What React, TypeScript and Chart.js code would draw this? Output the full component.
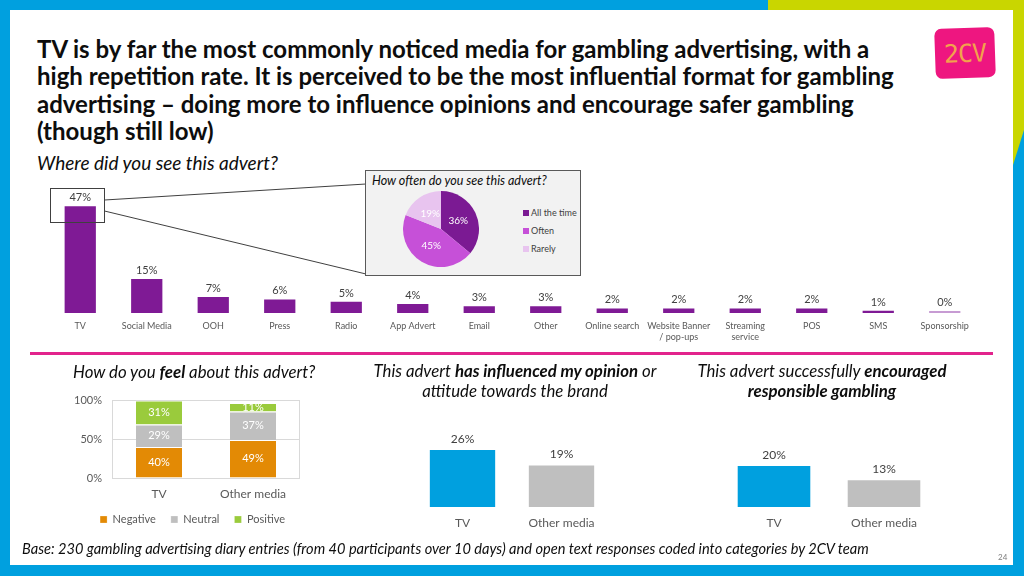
import React, { useEffect, useRef } from "react";
import { Chart, registerables } from "chart.js";

Chart.register(...registerables);

const SANS = "Lato, 'Open Sans', 'Noto Sans', sans-serif";

// ---------- data ----------
const mediaCategories: (string | string[])[] = [
  "TV", "Social Media", "OOH", "Press", "Radio", "App Advert", "Email", "Other",
  "Online search", ["Website Banner", "/ pop-ups"], ["Streaming", "service"], "POS", "SMS", "Sponsorship",
];
const mediaShare = [47, 15, 7, 6, 5, 4, 3, 3, 2, 2, 2, 2, 1, 0];

const frequencyLabels = ["All the time", "Often", "Rarely"];
const frequencyShare = [36, 45, 19];

const feelCategories = ["TV", "Other media"];
const feelSeriesNames = ["Negative", "Neutral", "Positive"];
const feelNegative = [40, 49];
const feelNeutral = [29, 37];
const feelPositive = [31, 11];

const compareCategories = ["TV", "Other media"];
const influencedShare = [26, 19];
const encouragedShare = [20, 13];

// ---------- colours ----------
const BLUE = "#00A0DF";
const LIME = "#C9D600";
const PURPLE = "#7F1A95";
const PIE_COLORS = ["#7B1A93", "#C650D8", "#E8C4EF"];
const ORANGE = "#E38A05";
const GREY = "#BFBFBF";
const GREEN = "#9ACB3C";
const AXIS_TEXT = "#595959";
const LABEL_TEXT = "#404040";

type LabelOpts = { size: number; color: string; position: "top" | "center" | "arc"; offset?: number };

function makeValueLabels(o: LabelOpts) {
  return {
    id: "valueLabels",
    afterDatasetsDraw(chart: any) {
      const ctx = chart.ctx;
      ctx.save();
      ctx.font = `${o.size}px ${SANS}`;
      ctx.textAlign = "center";
      ctx.fillStyle = o.color;
      chart.data.datasets.forEach((ds: any, di: number) => {
        const meta = chart.getDatasetMeta(di);
        meta.data.forEach((el: any, i: number) => {
          const text = `${Math.round(ds.data[i])}%`;
          if (o.position === "top") {
            ctx.textBaseline = "alphabetic";
            ctx.fillText(text, el.x, el.y - (o.offset ?? 6));
          } else if (o.position === "arc") {
            const p = el.tooltipPosition(false);
            ctx.textBaseline = "middle";
            ctx.fillText(text, p.x, p.y);
          } else {
            ctx.textBaseline = "middle";
            ctx.fillText(text, el.x, (el.y + el.base) / 2);
          }
        });
      });
      ctx.restore();
    },
  };
}

const plotFrame = {
  id: "plotFrame",
  beforeDatasetsDraw(chart: any) {
    const { ctx, chartArea: a } = chart;
    ctx.save();
    ctx.strokeStyle = "#D9D9D9";
    ctx.lineWidth = 1;
    ctx.beginPath();
    ctx.moveTo(Math.round(a.left) + 0.5, a.top);
    ctx.lineTo(Math.round(a.left) + 0.5, a.bottom);
    ctx.moveTo(Math.round(a.right) - 0.5, a.top);
    ctx.lineTo(Math.round(a.right) - 0.5, a.bottom);
    ctx.stroke();
    ctx.restore();
  },
};

const mainConfig = () => ({
  type: "bar",
  data: {
    labels: mediaCategories,
    datasets: [
      {
        data: mediaShare,
        backgroundColor: mediaShare.map((v) => (v > 0 ? PURPLE : "#C79BD3")),
        barPercentage: 0.47,
        categoryPercentage: 1,
        minBarLength: 2,
        borderWidth: 0,
      },
    ],
  },
  options: {
    responsive: false,
    animation: false,
    layout: { padding: { top: 19.5, left: 0, right: 0, bottom: 0 } },
    plugins: { legend: { display: false }, tooltip: { enabled: false } },
    scales: {
      x: {
        grid: { display: false, drawTicks: false },
        border: { display: false },
        ticks: { color: AXIS_TEXT, font: { family: SANS, size: 9 }, padding: 8, maxRotation: 0, autoSkip: false },
        afterFit: (s: any) => { s.height = 32; },
      },
      y: { display: false, min: 0, max: 50 },
    },
  },
  plugins: [makeValueLabels({ size: 11, color: LABEL_TEXT, position: "top", offset: 5 })],
});

const pieConfig = () => ({
  type: "pie",
  data: {
    labels: frequencyLabels,
    datasets: [{ data: frequencyShare, backgroundColor: PIE_COLORS, borderWidth: 0 }],
  },
  options: {
    responsive: false,
    animation: false,
    layout: { padding: 0 },
    plugins: { legend: { display: false }, tooltip: { enabled: false } },
  },
  plugins: [makeValueLabels({ size: 10, color: "#FFFFFF", position: "arc" })],
});

const feelConfig = () => ({
  type: "bar",
  data: {
    labels: feelCategories,
    datasets: [feelNegative, feelNeutral, feelPositive].map((d, i) => ({
      label: feelSeriesNames[i],
      data: d,
      backgroundColor: [ORANGE, GREY, GREEN][i],
      barPercentage: 0.49,
      categoryPercentage: 1,
      borderColor: "#FFFFFF",
      borderWidth: { top: 1, bottom: 0, left: 0, right: 0 },
      borderSkipped: false,
    })),
  },
  options: {
    responsive: false,
    animation: false,
    layout: { padding: { top: 0, right: 5, left: 0, bottom: 0 } },
    plugins: {
      legend: {
        position: "bottom",
        align: "end",
        labels: { boxWidth: 7, boxHeight: 7, padding: 15, color: AXIS_TEXT, font: { family: SANS, size: 11 } },
      },
      tooltip: { enabled: false },
    },
    scales: {
      x: {
        stacked: true,
        grid: { display: false, drawTicks: false },
        border: { display: false },
        ticks: { color: AXIS_TEXT, font: { family: SANS, size: 12 }, padding: 9 },
        afterFit: (s: any) => { s.height = 21; },
      },
      y: {
        stacked: true,
        min: 0,
        max: 100,
        ticks: { stepSize: 50, callback: (v: any) => `${v}%`, color: AXIS_TEXT, font: { family: SANS, size: 11 }, padding: 10 },
        grid: { color: "#D9D9D9", drawTicks: false },
        border: { display: false },
        afterFit: (s: any) => { s.width = 62; },
      },
    },
  },
  plugins: [plotFrame, makeValueLabels({ size: 11, color: "#FFFFFF", position: "center" })],
});

const compareConfig = (values: number[], pad: { top: number; left: number; right: number }) => () => ({
  type: "bar",
  data: {
    labels: compareCategories,
    datasets: [{ data: values, backgroundColor: [BLUE, GREY], barPercentage: 0.66, categoryPercentage: 1, borderWidth: 0 }],
  },
  options: {
    responsive: false,
    animation: false,
    layout: { padding: { ...pad, bottom: 0 } },
    plugins: { legend: { display: false }, tooltip: { enabled: false } },
    scales: {
      x: {
        grid: { display: false, drawTicks: false },
        border: { display: false },
        ticks: { color: AXIS_TEXT, font: { family: SANS, size: 12 }, padding: 9 },
        afterFit: (s: any) => { s.height = 28; },
      },
      y: { display: false, min: 0, max: 30 },
    },
  },
  plugins: [makeValueLabels({ size: 12, color: LABEL_TEXT, position: "top", offset: 7 })],
});

function ChartCanvas(props: { left: number; top: number; width: number; height: number; make: () => any }) {
  const ref = useRef<HTMLCanvasElement>(null);
  useEffect(() => {
    const chart = new Chart(ref.current as HTMLCanvasElement, props.make());
    return () => chart.destroy();
  }, []);
  return (
    <canvas
      ref={ref}
      width={props.width}
      height={props.height}
      style={{ position: "absolute", left: props.left, top: props.top, width: props.width, height: props.height }}
    />
  );
}

const abs = (left: number, top: number, extra: React.CSSProperties = {}): React.CSSProperties => ({
  position: "absolute",
  left,
  top,
  whiteSpace: "nowrap",
  fontFamily: SANS,
  ...extra,
});

export default function App() {
  return (
    <div style={{ position: "absolute", left: 0, top: 0, width: 1024, height: 576, overflow: "hidden", background: BLUE }}>
      <svg width={1024} height={576} style={{ position: "absolute", left: 0, top: 0 }}>
        <polygon points="768,0 1024,0 1024,130 1013,165 1013,10 768,10" fill={LIME} />
      </svg>
      <div style={{ position: "absolute", left: 10, top: 10, width: 1003, height: 555, background: "#FFFFFF" }} />

      {/* logo */}
      <div
        style={{
          position: "absolute", left: 935, top: 28, width: 60, height: 50, borderRadius: 7, background: "#EE1680",
          transform: "rotate(-2deg)", display: "flex", alignItems: "center", justifyContent: "center",
        }}
      >
        <span style={{ fontFamily: "'DejaVu Sans Mono', monospace", fontSize: 25, color: "#F2A24C", letterSpacing: -1 }}>2CV</span>
      </div>

      {/* title */}
      <div style={abs(37, 35, { fontSize: 24, lineHeight: "27.3px", fontWeight: 700, color: "#0D0D0D" })}>
        TV is by far the most commonly noticed media for gambling advertising, with a<br />
        high repetition rate. It is perceived to be the most influential format for gambling<br />
        advertising – doing more to influence opinions and encourage safer gambling<br />
        (though still low)
      </div>

      <div style={abs(37, 152, { fontSize: 19, lineHeight: "22.8px", fontStyle: "italic", color: "#0D0D0D" })}>
        Where did you see this advert?
      </div>

      <ChartCanvas left={47} top={180} width={931} height={165} make={mainConfig} />

      {/* zoom call-out */}
      <svg width={1024} height={576} style={{ position: "absolute", left: 0, top: 0, pointerEvents: "none" }}>
        <rect x={50.5} y={188.5} width={54} height={34} fill="none" stroke="#404040" strokeWidth={1} />
        <line x1={104.5} y1={200} x2={366} y2={184} stroke="#404040" strokeWidth={1} />
        <line x1={104.5} y1={211} x2={366} y2={274} stroke="#404040" strokeWidth={1} />
      </svg>

      <div
        style={{
          position: "absolute", left: 365, top: 170, width: 214, height: 104, background: "#F2F2F2",
          border: "1.5px solid #595959",
        }}
      />
      <div style={abs(372, 173, { fontSize: 12.5, lineHeight: "15px", fontStyle: "italic", color: "#0D0D0D" })}>
        How often do you see this advert?
      </div>
      <ChartCanvas left={403} top={191} width={76} height={76} make={pieConfig} />
      {frequencyLabels.map((t, i) => (
        <div key={t} style={abs(523, 207 + i * 18, { fontSize: 9, lineHeight: "12px", color: LABEL_TEXT, display: "flex", alignItems: "center" })}>
          <span style={{ display: "inline-block", width: 6, height: 6, background: PIE_COLORS[i], marginRight: 2 }} />
          {t}
        </div>
      ))}

      {/* divider */}
      <div style={{ position: "absolute", left: 30, top: 352, width: 963, height: 3, background: "#E2238C" }} />

      {/* bottom left */}
      <div style={abs(73, 362, { fontSize: 16.8, lineHeight: "20px", fontStyle: "italic", color: "#0D0D0D" })}>
        How do you <b>feel</b> about this advert?
      </div>
      <ChartCanvas left={50} top={384} width={255} height={151} make={feelConfig} />

      {/* bottom middle */}
      <div style={abs(315, 361, { width: 400, textAlign: "center", fontSize: 16.8, lineHeight: "20px", fontStyle: "italic", color: "#0D0D0D" })}>
        This advert <b>has influenced my opinion</b> or<br />attitude towards the brand
      </div>
      <ChartCanvas left={400} top={420} width={225} height={115} make={compareConfig(influencedShare, { top: 21.3, left: 13, right: 14 })} />

      {/* bottom right */}
      <div style={abs(622, 361, { width: 400, textAlign: "center", fontSize: 16.8, lineHeight: "20px", fontStyle: "italic", color: "#0D0D0D" })}>
        This advert successfully <b>encouraged</b><br /><b>responsible gambling</b>
      </div>
      <ChartCanvas left={700} top={420} width={260} height={115} make={compareConfig(encouragedShare, { top: 25.5, left: 19, right: 21 })} />

      {/* footer */}
      <div style={abs(22, 540, { fontSize: 14.6, lineHeight: "17.5px", fontStyle: "italic", color: "#0D0D0D" })}>
        Base: 230 gambling advertising diary entries (from 40 participants over 10 days) and open text responses coded into categories by 2CV team
      </div>
      <div style={abs(998, 552, { fontSize: 8, lineHeight: "10px", color: "#7F7F7F" })}>24</div>
    </div>
  );
}
